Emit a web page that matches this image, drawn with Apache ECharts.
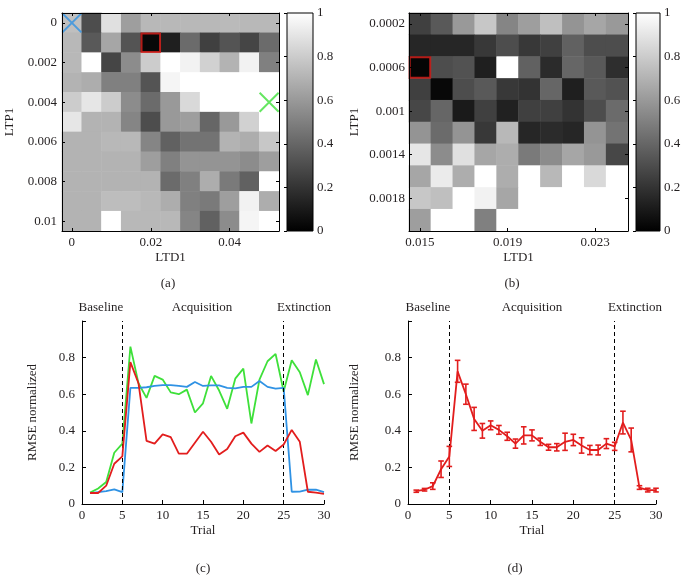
<!DOCTYPE html>
<html><head><meta charset="utf-8">
<script src="https://cdn.jsdelivr.net/npm/echarts@6/dist/echarts.min.js"></script>
<style>html,body{margin:0;padding:0;background:#fff}#c{width:690px;height:584px}</style>
</head><body><div id="c"></div>
<script>
// ---- Panel (a) heatmap ----
const ltd1A = ['0','0.005','0.01','0.015','0.02','0.025','0.03','0.035','0.04','0.045','0.05'];
const ltp1A = ['0','0.001','0.002','0.003','0.004','0.005','0.006','0.007','0.008','0.009','0.01'];
const heatA = [
  [0.75,0.30,0.88,0.62,0.72,0.72,0.72,0.72,0.73,0.72,0.72],
  [0.72,0.35,0.65,0.33,0.03,0.12,0.42,0.25,0.33,0.27,0.42],
  [0.72,1.00,0.27,0.55,0.80,1.00,0.95,0.82,0.70,0.95,0.50],
  [0.70,0.68,0.50,0.50,0.33,0.96,1.00,1.00,1.00,1.00,1.00],
  [0.80,0.90,0.80,0.55,0.42,0.60,0.85,1.00,1.00,1.00,1.00],
  [0.90,0.70,0.70,0.52,0.30,0.60,0.62,0.40,0.60,0.82,1.00],
  [0.70,0.70,0.72,0.72,0.52,0.38,0.45,0.45,0.70,0.68,0.78],
  [0.70,0.70,0.70,0.70,0.62,0.50,0.58,0.58,0.58,0.55,0.62],
  [0.70,0.70,0.70,0.70,0.70,0.42,0.50,0.68,0.48,0.38,1.00],
  [0.70,0.70,0.74,0.74,0.72,0.68,0.50,0.48,0.62,0.95,0.68],
  [0.70,0.70,1.00,0.72,0.72,0.72,0.52,0.38,0.55,0.96,1.00]
];
const bestA = [[4, 1]];
const blueMarkA = [[0, 0]];
const greenMarkA = [[10, 4]];

// ---- Panel (b) heatmap ----
const ltd1B = ['0.015','0.016','0.017','0.018','0.019','0.02','0.021','0.022','0.023','0.024'];
const ltp1B = ['0.0002','0.0004','0.0006','0.0008','0.001','0.0012','0.0014','0.0016','0.0018','0.002'];
const heatB = [
  [0.25,0.35,0.60,0.78,0.52,0.62,0.75,0.58,0.65,0.60],
  [0.15,0.15,0.15,0.22,0.30,0.22,0.25,0.38,0.30,0.30],
  [0.02,0.30,0.32,0.12,1.00,0.38,0.17,0.40,0.35,0.18],
  [0.25,0.03,0.30,0.35,0.22,0.20,0.40,0.12,0.35,0.32],
  [0.28,0.40,0.10,0.25,0.13,0.25,0.25,0.20,0.30,0.42],
  [0.58,0.42,0.58,0.22,0.72,0.15,0.17,0.15,0.58,0.45],
  [0.90,0.55,0.88,0.65,0.68,0.48,0.55,0.65,0.60,0.28],
  [0.65,0.92,0.68,1.00,0.68,1.00,0.72,1.00,0.85,1.00],
  [0.78,0.75,1.00,0.95,0.65,1.00,1.00,1.00,1.00,1.00],
  [0.62,1.00,1.00,0.50,1.00,1.00,1.00,1.00,1.00,1.00]
];
const bestB = [[0, 2]];

// ---- Panel (c) lines ----
const trials = [1,2,3,4,5,6,7,8,9,10,11,12,13,14,15,16,17,18,19,20,21,22,23,24,25,26,27,28,29,30];
const rmseGreen = [0.062,0.085,0.12,0.28,0.33,0.86,0.66,0.58,0.70,0.68,0.61,0.60,0.625,0.50,0.55,0.70,0.62,0.52,0.685,0.74,0.44,0.68,0.78,0.82,0.615,0.785,0.72,0.595,0.79,0.655];
const rmseBlue  = [0.060,0.065,0.070,0.080,0.065,0.635,0.635,0.638,0.645,0.650,0.650,0.645,0.640,0.667,0.645,0.648,0.648,0.635,0.632,0.640,0.640,0.672,0.640,0.630,0.635,0.067,0.068,0.078,0.078,0.065];
const rmseRed   = [0.060,0.060,0.10,0.22,0.26,0.775,0.66,0.345,0.33,0.38,0.365,0.275,0.275,0.335,0.395,0.34,0.27,0.30,0.37,0.39,0.33,0.285,0.32,0.29,0.325,0.405,0.34,0.067,0.062,0.055];

// ---- Panel (d) mean with error bars ----
const meanRmse = [0.070,0.078,0.098,0.19,0.26,0.725,0.60,0.465,0.40,0.43,0.405,0.37,0.33,0.375,0.375,0.34,0.31,0.31,0.34,0.35,0.32,0.295,0.295,0.33,0.315,0.445,0.35,0.09,0.076,0.076];
const semRmse  = [0.006,0.007,0.018,0.045,0.055,0.06,0.055,0.063,0.04,0.024,0.024,0.022,0.025,0.047,0.03,0.02,0.016,0.02,0.047,0.031,0.042,0.025,0.027,0.027,0.022,0.062,0.065,0.01,0.01,0.01];

const phaseNames = ['Baseline','Acquisition','Extinction'];
const phaseBounds = [5, 25];

const FONT = 'Liberation Serif';
const FS = 13;
const TXT = '#231f20';
const cGreen = '#3ee03a', cBlue = '#2f92e4', cRed = '#e21d1d';

function heatData(m){ const out=[]; m.forEach((row,r)=>row.forEach((v,c)=>out.push([c,r,v]))); return out; }
function pairs(xs, ys){ return xs.map((x,i)=>[x, ys[i]]); }

const lbl = {fontFamily: FONT, fontSize: FS, color: TXT};
const blackLine = {show:true, lineStyle:{color:'#000', width:1}};

function catAxis(gridIndex, data, pos, every, showLabel, margin, extra){
  return Object.assign({
    type:'category', gridIndex, data, position: pos, z: 10,
    axisLine: blackLine,
    axisTick: {show:true, inside:true, length:3, alignWithLabel:true, interval:(i)=> i % every === 0, lineStyle:{color:'#000'}},
    axisLabel: Object.assign({show: showLabel, interval:(i)=> i % every === 0, margin}, lbl),
    splitLine: {show:false}
  }, extra || {});
}

const cbGrad = {type:'linear', x:0, y:0, x2:0, y2:1, colorStops:[{offset:0,color:'#ffffff'},{offset:1,color:'#000000'}]};

function cbY(gridIndex){
  return {type:'value', gridIndex, min:0, max:1, interval:0.2, position:'right',
    axisLine:{show:false},
    axisTick:{show:true, inside:true, length:3, lineStyle:{color:'#000'}},
    axisLabel: Object.assign({margin:4}, lbl),
    splitLine:{show:false}};
}
function valX(gridIndex){
  return {type:'value', gridIndex, min:0, max:30, interval:5,
    axisLine: blackLine,
    axisTick:{show:true, inside:true, length:4, lineStyle:{color:'#000'}},
    axisLabel: Object.assign({margin:5}, lbl),
    splitLine:{show:false},
    name:'Trial', nameLocation:'middle', nameGap:20, nameTextStyle: lbl};
}
function valY(gridIndex, gap){
  return {type:'value', gridIndex, min:0, max:1, interval:0.2,
    axisLine: blackLine,
    axisTick:{show:true, inside:true, length:4, lineStyle:{color:'#000'}},
    axisLabel: Object.assign({margin:7, formatter:(v)=> v===1 ? '' : String(v)}, lbl),
    splitLine:{show:false},
    name:'RMSE normalized', nameLocation:'middle', nameGap:gap, nameTextStyle: lbl};
}

const phaseMark = {
  silent:true, symbol:['none','none'], label:{show:false},
  lineStyle:{color:'#000', type:[4,3], width:1},
  data: phaseBounds.map(b=>({xAxis:b}))
};

const xMark = 'path://M0 0L20 20M20 0L0 20';

const option = {
  animation:false,
  backgroundColor:'#fff',
  grid:[
    {left:62, top:13, width:217, height:218},
    {left:287, top:13, width:26, height:218, show:true, backgroundColor: cbGrad, borderColor:'#000', borderWidth:1},
    {left:409, top:13, width:219, height:218},
    {left:636, top:13, width:24, height:218, show:true, backgroundColor: cbGrad, borderColor:'#000', borderWidth:1},
    {left:82, top:321, width:242, height:183},
    {left:408, top:321, width:248, height:183}
  ],
  xAxis:[
    catAxis(0, ltd1A, 'bottom', 4, true, 5, {name:'LTD1', nameLocation:'middle', nameGap:20, nameTextStyle: lbl}),
    catAxis(0, ltd1A, 'top', 4, false, 6),
    {type:'value', gridIndex:1, min:0, max:1, show:false},
    catAxis(2, ltd1B, 'bottom', 4, true, 5, {name:'LTD1', nameLocation:'middle', nameGap:20, nameTextStyle: lbl}),
    catAxis(2, ltd1B, 'top', 4, false, 6),
    {type:'value', gridIndex:3, min:0, max:1, show:false},
    valX(4),
    valX(5)
  ],
  yAxis:[
    catAxis(0, ltp1A, 'left', 2, true, 5, {inverse:true, name:'LTP1', nameLocation:'middle', nameGap:46, nameTextStyle: lbl}),
    catAxis(0, ltp1A, 'right', 2, false, 6, {inverse:true}),
    cbY(1),
    catAxis(2, ltp1B, 'left', 2, true, 4, {inverse:true, name:'LTP1', nameLocation:'middle', nameGap:48, nameTextStyle: lbl}),
    catAxis(2, ltp1B, 'right', 2, false, 6, {inverse:true}),
    cbY(3),
    valY(4, 43),
    valY(5, 47)
  ],
  visualMap:[
    {type:'continuous', show:false, min:0, max:1, seriesIndex:0, inRange:{color:['#000000','#ffffff']}},
    {type:'continuous', show:false, min:0, max:1, seriesIndex:1, inRange:{color:['#000000','#ffffff']}}
  ],
  series:[
    {type:'heatmap', xAxisIndex:0, yAxisIndex:0, data: heatData(heatA), itemStyle:{borderWidth:0}},
    {type:'heatmap', xAxisIndex:3, yAxisIndex:3, data: heatData(heatB), itemStyle:{borderWidth:0}},
    {type:'scatter', xAxisIndex:0, yAxisIndex:0, data: bestA, symbol:'rect', symbolSize:[18.5,18.5], z:5,
      itemStyle:{color:'rgba(0,0,0,0)', borderColor:'#e0201c', borderWidth:2}},
    {type:'scatter', xAxisIndex:0, yAxisIndex:0, data: blueMarkA, symbol:xMark, symbolSize:[19,19], z:5,
      itemStyle:{color:'none', borderColor:'#2f92e4', borderWidth:2}},
    {type:'scatter', xAxisIndex:0, yAxisIndex:0, data: greenMarkA, symbol:xMark, symbolSize:[19,19], z:5,
      itemStyle:{color:'none', borderColor:'#3ee03a', borderWidth:2}},
    {type:'scatter', xAxisIndex:3, yAxisIndex:3, data: bestB, symbol:'rect', symbolSize:[20.5,20.5], z:5,
      itemStyle:{color:'rgba(0,0,0,0)', borderColor:'#e0201c', borderWidth:2}},
    {type:'line', xAxisIndex:2, yAxisIndex:2, data:[]},
    {type:'line', xAxisIndex:5, yAxisIndex:5, data:[]},
    {type:'line', xAxisIndex:6, yAxisIndex:6, data: pairs(trials, rmseGreen), showSymbol:false, lineStyle:{color:cGreen, width:1.8}, itemStyle:{color:cGreen}, z:3},
    {type:'line', xAxisIndex:6, yAxisIndex:6, data: pairs(trials, rmseBlue), showSymbol:false, lineStyle:{color:cBlue, width:1.8}, itemStyle:{color:cBlue}, z:4},
    {type:'line', xAxisIndex:6, yAxisIndex:6, data: pairs(trials, rmseRed), showSymbol:false, lineStyle:{color:cRed, width:1.8}, itemStyle:{color:cRed}, z:5, markLine: phaseMark},
    {type:'line', xAxisIndex:7, yAxisIndex:7, data: pairs(trials, meanRmse), showSymbol:false, lineStyle:{color:cRed, width:1.8}, itemStyle:{color:cRed}, z:4, markLine: phaseMark},
    {type:'custom', xAxisIndex:7, yAxisIndex:7, z:5,
      data: trials.map((t,i)=>[t, meanRmse[i], semRmse[i]]),
      renderItem:(params, api)=>{
        const x = api.value(0), m = api.value(1), e = api.value(2);
        const top = api.coord([x, m+e]), bot = api.coord([x, m-e]);
        const hw = 2.8;
        const st = {stroke:cRed, lineWidth:1.6, fill:'none'};
        return {type:'group', children:[
          {type:'line', shape:{x1:top[0], y1:top[1], x2:bot[0], y2:bot[1]}, style:st},
          {type:'line', shape:{x1:top[0]-hw, y1:top[1], x2:top[0]+hw, y2:top[1]}, style:st},
          {type:'line', shape:{x1:bot[0]-hw, y1:bot[1], x2:bot[0]+hw, y2:bot[1]}, style:st}
        ]};
      }}
  ],
  graphic:[
    ...[['(a)',168,284],['(b)',512,284],['(c)',203,569],['(d)',515,569],
        [phaseNames[0],101,308],[phaseNames[1],202,308],[phaseNames[2],304,308],
        [phaseNames[0],428,308],[phaseNames[1],532,308],[phaseNames[2],635,308]
       ].map(([t,x,y])=>({type:'text', x, y, style:{text:t, font:FS+'px "Liberation Serif"', fill:TXT, textAlign:'center', textVerticalAlign:'middle', align:'center', verticalAlign:'middle'}}))
  ]
};

const chart = echarts.init(document.getElementById('c'), null, {renderer:'canvas'});
chart.setOption(option);
</script>
</body></html>
